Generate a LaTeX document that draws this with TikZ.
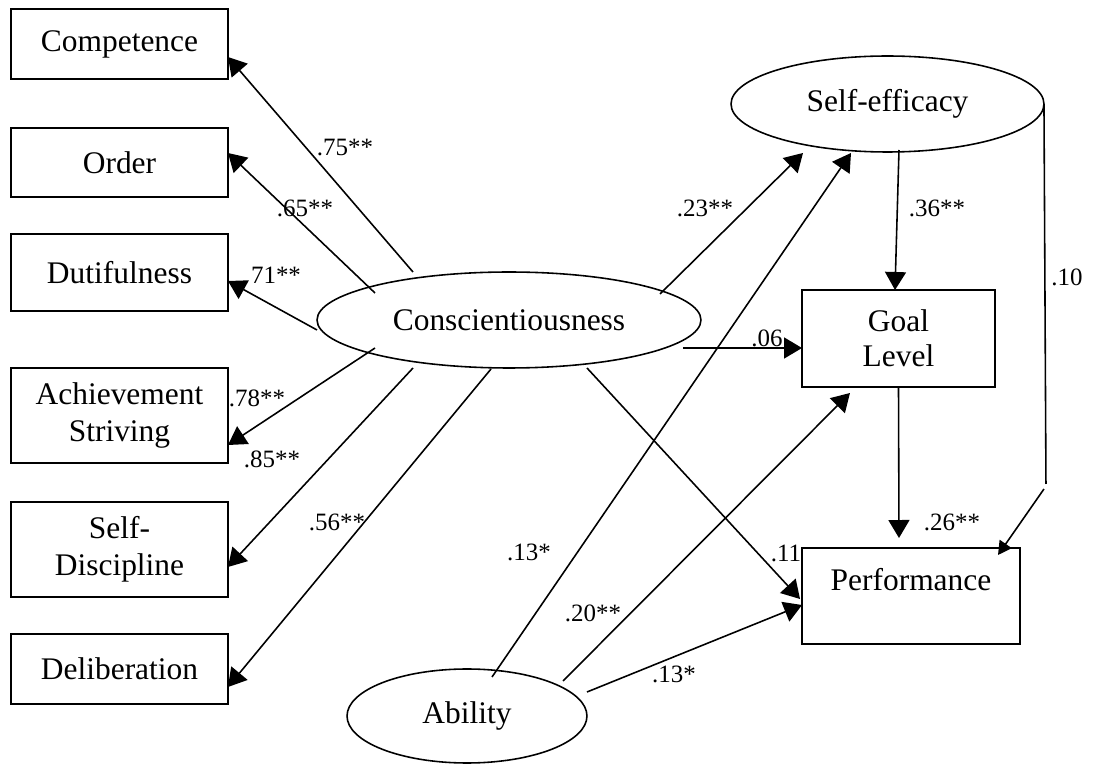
\documentclass[tikz,border=0pt]{standalone}
\usepackage{fontspec}
\setmainfont{Liberation Serif}
\usetikzlibrary{arrows.meta,shapes.geometric,calc}
\begin{document}
\begin{tikzpicture}[x=0.02cm,y=-0.02cm,
  every node/.style={inner sep=0pt,outer sep=0pt},
  txt/.style={font=\fontsize{17.9}{21}\selectfont,align=center},
  box/.style={txt,draw,rectangle,line width=1pt},
  latent/.style={txt,draw,ellipse,line width=0.9pt},
  coef/.style={font=\fontsize{14.2}{16}\selectfont},
  link/.style={line width=0.9pt,-{Triangle[length=0.36cm,width=0.42cm]}},
  smalllink/.style={line width=0.9pt,-{Triangle[length=0.27cm,width=0.29cm]}}]
\useasboundingbox (0,0) rectangle (1093,766);

% facet indicators
\node[box,minimum width=4.34cm,minimum height=1.40cm] (comp) at (119.5,44)    {Competence};
\node[box,minimum width=4.34cm,minimum height=1.38cm] (order) at (119.5,162.5) {Order};
\node[box,minimum width=4.34cm,minimum height=1.54cm] (dut) at (119.5,272.5)   {Dutifulness};
\node[box,minimum width=4.34cm,minimum height=1.90cm] (ach) at (119.5,415.5)   {Achievement\\Striving};
\node[box,minimum width=4.34cm,minimum height=1.90cm] (sd) at (119.5,549.5)    {Self-\\Discipline};
\node[box,minimum width=4.34cm,minimum height=1.40cm] (del) at (119.5,669)     {Deliberation};

% latent variables
\node[latent,minimum width=7.68cm,minimum height=1.92cm] (cons) at (509,320)  {Conscientiousness};
\node[latent,minimum width=6.26cm,minimum height=1.92cm] (se) at (887.5,104)  {Self-efficacy};
\node[latent,minimum width=4.80cm,minimum height=1.88cm] (abil) at (467,716)  {Ability};

% observed outcomes
\node[box,minimum width=3.86cm,minimum height=1.94cm] (goal) at (898.5,338.5) {Goal\\[-1.1pt]Level};
\node[box,minimum width=4.36cm,minimum height=1.92cm,text height=12.2pt,text depth=19pt] (perf) at (911,596) {Performance};

% loadings of the facets
\draw[link] ($(cons.center)+(-96,-48)$) -- ($(comp.east)+(0,13)$);
\draw[link] ($(cons.center)+(-134,-27)$) -- ($(order.east)+(0,-9.5)$);
\draw[link] ($(cons.center)+(-192,10)$) -- ($(dut.east)+(0,8.5)$);
\draw[link] ($(cons.center)+(-134,28)$) -- ($(ach.east)+(0,29.5)$);
\draw[link] ($(cons.center)+(-96,48)$) -- ($(sd.east)+(0,17.5)$);
\draw[link] ($(cons.center)+(-18,49)$) -- ($(del.east)+(0,18)$);

% structural paths
\draw[link] ($(cons.center)+(151,-26)$) -- ($(se.center)+(-84.5,49)$);
\draw[link] ($(cons.center)+(174,28)$) -- ($(goal.west)+(0,9.5)$);
\draw[link] ($(cons.center)+(78,48)$) -- ($(perf.west)+(-2,3)$);
\draw[link] ($(abil.center)+(25,-39)$) -- ($(se.center)+(-36.5,49)$);
\draw[link] ($(abil.center)+(96,-35)$) -- ($(goal.center)+(-48.5,54.5)$);
\draw[link] ($(abil.center)+(120,-24)$) -- ($(perf.west)+(0,9)$);
\draw[link] ($(se.center)+(11.5,46)$) -- ($(goal.north)+(-3.5,0)$);
\draw[link] (goal.south) -- ($(perf.north)+(-12,-10)$);
\coordinate (bendtop) at ($(se.east)+(2,380)$);
\coordinate (bendlow) at ($(se.east)+(0,385)$);
\draw[line width=0.9pt] (se.east) -- (bendtop);
\draw[smalllink] (bendlow) -- ($(perf.center)+(87,-41)$);

% coefficients
\node[coef] (l1) at (345,148) {.75**};
\node[coef] (l2) at (305,208) {.65**};
\node[coef] (l3) at (276,275) {71**};
\node[coef] (l4) at (257,398) {.78**};
\node[coef] (l5) at (272,459) {.85**};
\node[coef] (l6) at (337,522) {.56**};
\node[coef] (l7) at (705,208) {.23**};
\node[coef] (l8) at (937,208) {.36**};
\node[coef] (l9) at (1067,277) {.10};
\node[coef] (l10) at (767,338) {.06};
\node[coef] (l11) at (952,522) {.26**};
\node[coef] (l12) at (786,553) {.11};
\node[coef] (l13) at (529,552) {.13*};
\node[coef] (l14) at (593,613) {.20**};
\node[coef] (l15) at (674,674) {.13*};
\end{tikzpicture}
\end{document}
